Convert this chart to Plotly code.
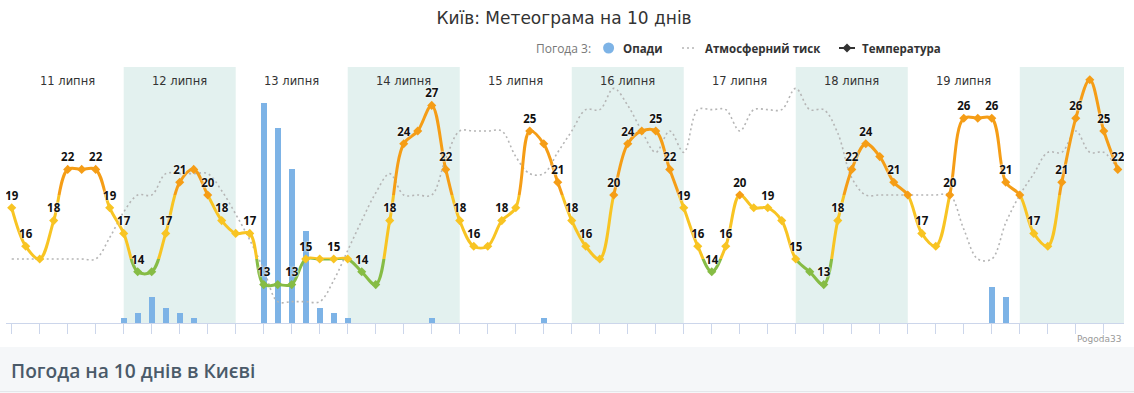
import plotly.graph_objects as go

# ---------------- data ----------------
STEP_H = 3  # hours between forecast points
day_labels = ["11 липня", "12 липня", "13 липня", "14 липня", "15 липня",
              "16 липня", "17 липня", "18 липня", "19 липня", "20 липня"]

temperature = [19, 16, 15, 18, 22, 22, 22, 19,
               17, 14, 14, 17, 21, 22, 20, 18,
               17, 17, 13, 13, 13, 15, 15, 15,
               15, 14, 13, 18, 24, 25, 27, 22,
               18, 16, 16, 18, 19, 25, 24, 21,
               18, 16, 15, 20, 24, 25, 25, 22,
               19, 16, 14, 16, 20, 19, 19, 18,
               15, 14, 13, 18, 22, 24, 23, 21,
               20, 17, 16, 20, 26, 26, 26, 21,
               20, 17, 16, 21, 26, 29, 25, 22]

# 1 = value label shown on the chart, 0 = hidden
temp_label_shown = [1, 1, 0, 1, 1, 0, 1, 1,
                    1, 1, 0, 1, 1, 0, 1, 1,
                    0, 1, 1, 0, 1, 1, 0, 1,
                    0, 1, 0, 1, 1, 0, 1, 1,
                    1, 1, 0, 1, 0, 1, 0, 1,
                    1, 1, 0, 1, 1, 0, 1, 1,
                    1, 1, 1, 1, 1, 0, 1, 0,
                    1, 0, 1, 1, 1, 1, 0, 1,
                    0, 1, 0, 1, 1, 0, 1, 1,
                    0, 1, 0, 1, 1, 0, 1, 1]

pressure = [743, 743, 743, 743, 743, 743, 743, 744,
            745.2, 746, 746, 747, 747, 747, 747, 746.2,
            745.1, 743.9, 742.5, 741, 741, 741, 741, 742,
            743.4, 744.8, 746.1, 747, 746, 746, 746, 747.7,
            749, 749, 749, 749, 747.8, 747, 747, 748,
            749, 750, 750, 751, 750.2, 749, 748, 749,
            748, 750, 750, 750, 749, 750, 750, 750,
            751, 750, 750, 748.9, 746.8, 746, 746, 746,
            746, 746, 746, 746, 744.4, 743, 743, 744.7,
            746, 747, 748, 748, 749, 748, 748, 747.2]

precipitation = [0, 0, 0, 0, 0, 0, 0, 0,
                 0.1, 0.2, 0.5, 0.3, 0.2, 0.1, 0, 0,
                 0, 0, 4.3, 3.8, 3.0, 1.8, 0.3, 0.2,
                 0.1, 0, 0, 0, 0, 0, 0.1, 0,
                 0, 0, 0, 0, 0, 0, 0.1, 0,
                 0, 0, 0, 0, 0, 0, 0, 0,
                 0, 0, 0, 0, 0, 0, 0, 0,
                 0, 0, 0, 0, 0, 0, 0, 0,
                 0, 0, 0, 0, 0, 0, 0.7, 0.5,
                 0, 0, 0, 0, 0, 0, 0, 0]

legend_names = ["Опади", "Атмосферний тиск", "Температура"]

# ---------------- styling ----------------
W, H = 1134, 393
M_L, M_R, M_T, M_B = 6, 10, 67, 70
PLOT_W = W - M_L - M_R
PLOT_H = H - M_T - M_B

T_MIN, T_MAX = 10, 30
P_MIN, P_MAX = 740, 752
R_MAX = 5
X_MIN, X_MAX = -1.22, 238.33

GREEN, YELLOW, ORANGE = "#86bc45", "#f8c423", "#f59d16"
zones = [(T_MIN, 15, GREEN), (15, 20, YELLOW), (20, T_MAX, ORANGE)]
BLUE = "#7db3e6"
BAND = "#e3f1ef"
TXT = "#333333"
PRESS_COL = "#b5b5b5"


def zone_color(v):
    for lo, hi, c in zones:
        if lo <= v < hi:
            return c
    return zones[-1][2]


def py_to_paper(py):
    return (H - M_B - py) / PLOT_H


def px_to_paper(px):
    return (px - M_L) / PLOT_W


x = [STEP_H * i for i in range(len(temperature))]
hours_per_day = 24

fig = go.Figure()

# precipitation bars (main y axis)
fig.add_trace(go.Bar(x=x, y=precipitation, width=1.3, name=legend_names[0],
                     marker=dict(color=BLUE, line=dict(width=0)),
                     showlegend=False, hoverinfo="skip", yaxis="y", xaxis="x"))

# pressure
fig.add_trace(go.Scatter(x=x, y=pressure, mode="lines", name=legend_names[1], yaxis="y2",
                         line=dict(color=PRESS_COL, width=1.6, dash="2px,3px", shape="spline", smoothing=1),
                         hoverinfo="skip", showlegend=False))

# temperature line split into colour zones via clipped sub-axes
zone_axes = ["y3", "y4", "y5"]
for (lo, hi, c), ya in zip(zones, zone_axes):
    fig.add_trace(go.Scatter(x=x, y=temperature, mode="lines", yaxis=ya, showlegend=False,
                             name=legend_names[2],
                             line=dict(color=c, width=3, shape="spline", smoothing=1),
                             hoverinfo="skip"))

# markers
fig.add_trace(go.Scatter(x=x, y=temperature, mode="markers", yaxis="y6", showlegend=False,
                         marker=dict(symbol="diamond", size=7, color=[zone_color(v) for v in temperature],
                                     line=dict(width=0)),
                         hoverinfo="skip"))
# value labels
labels = [str(v) if s else "" for v, s in zip(temperature, temp_label_shown)]
fig.add_trace(go.Scatter(x=x, y=temperature, mode="markers+text", yaxis="y6", showlegend=False,
                         text=labels, textposition="top center",
                         marker=dict(size=7, color="rgba(0,0,0,0)"),
                         textfont=dict(family="Open Sans", size=11.5, color="#111111", weight="bold",
                                       shadow="0px 0px 2px #ffffff, 0px 0px 2px #ffffff"),
                         hoverinfo="skip"))

# day bands and labels
n_days = len(day_labels)
shapes = []
annotations = []
for d in range(n_days):
    if d % 2 == 1:
        shapes.append(dict(type="rect", xref="x", yref="paper", layer="below",
                           x0=d * hours_per_day, x1=(d + 1) * hours_per_day, y0=0, y1=1,
                           fillcolor=BAND, line=dict(width=0)))
for d, lab in enumerate(day_labels[:-1]):
    annotations.append(dict(x=d * hours_per_day + hours_per_day / 2, y=py_to_paper(81),
                            xref="x", yref="paper", text=lab, showarrow=False,
                            font=dict(family="DejaVu Sans", size=11.5, color=TXT),
                            xanchor="center", yanchor="middle"))

# bottom banner
shapes.append(dict(type="rect", xref="paper", yref="paper", layer="below",
                   x0=px_to_paper(0), x1=px_to_paper(W), y0=py_to_paper(H), y1=py_to_paper(347),
                   fillcolor="#f5f7f9", line=dict(width=0)))
shapes.append(dict(type="line", xref="paper", yref="paper", layer="below",
                   x0=px_to_paper(0), x1=px_to_paper(W), y0=py_to_paper(391.5), y1=py_to_paper(391.5),
                   line=dict(color="#e4e7ea", width=1)))
annotations.append(dict(x=px_to_paper(9), y=py_to_paper(370), xref="paper", yref="paper",
                        text="Погода на 10 днів в Києві", showarrow=False, xanchor="left",
                        yanchor="middle",
                        font=dict(family="Open Sans", size=19.2, color="#4a5a69", weight=600)))
# credits
annotations.append(dict(x=1, y=py_to_paper(339), xref="paper", yref="paper", text="Pogoda33",
                        showarrow=False, xanchor="right", yanchor="middle",
                        font=dict(family="DejaVu Sans", size=9, color="#999999")))

# ---- legend (drawn in the header, Highcharts style) ----
LEG_Y = py_to_paper(48)
leg_font = dict(family="Open Sans", size=11.5, color=TXT, weight="bold")
annotations.append(dict(x=px_to_paper(534), y=LEG_Y, xref="paper", yref="paper",
                        text="Погода 3:", showarrow=False, xanchor="left", yanchor="middle",
                        font=dict(family="Open Sans", size=12, color="#777777")))
for name, left_px in zip(legend_names, [621, 703, 860]):
    annotations.append(dict(x=px_to_paper(left_px), y=LEG_Y, xref="paper", yref="paper",
                            text=name, showarrow=False, xanchor="left", yanchor="middle",
                            font=leg_font))
# symbols
r = 5.5
shapes.append(dict(type="circle", xref="paper", yref="paper",
                   x0=px_to_paper(608.6 - r), x1=px_to_paper(608.6 + r),
                   y0=py_to_paper(48 + r), y1=py_to_paper(48 - r),
                   fillcolor=BLUE, line=dict(width=0)))
shapes.append(dict(type="line", xref="paper", yref="paper",
                   x0=px_to_paper(682), x1=px_to_paper(697), y0=LEG_Y, y1=LEG_Y,
                   line=dict(color=PRESS_COL, width=1.6, dash="2px,3px")))
shapes.append(dict(type="line", xref="paper", yref="paper",
                   x0=px_to_paper(839), x1=px_to_paper(855), y0=LEG_Y, y1=LEG_Y,
                   line=dict(color=TXT, width=2)))
cx, d4 = 847, 4.5
shapes.append(dict(type="path", xref="paper", yref="paper",
                   path=(f"M{px_to_paper(cx - d4)},{LEG_Y} L{px_to_paper(cx)},{py_to_paper(48 - d4)} "
                         f"L{px_to_paper(cx + d4)},{LEG_Y} L{px_to_paper(cx)},{py_to_paper(48 + d4)} Z"),
                   fillcolor=TXT, line=dict(width=0)))

layout_axes = {}
layout_axes["yaxis"] = dict(domain=[0, 1], range=[0, R_MAX], visible=False, fixedrange=True)
layout_axes["yaxis2"] = dict(overlaying="y", range=[P_MIN, P_MAX], visible=False)
for (lo, hi, c), ya in zip(zones, zone_axes):
    key = "yaxis" + ya[1:]
    layout_axes[key] = dict(domain=[(lo - T_MIN) / (T_MAX - T_MIN), (hi - T_MIN) / (T_MAX - T_MIN)],
                            range=[lo, hi], visible=False, anchor="x")
layout_axes["yaxis6"] = dict(domain=[0, 1], range=[T_MIN, T_MAX], visible=False, anchor="x")

fig.update_layout(
    width=W, height=H,
    margin=dict(l=M_L, r=M_R, t=M_T, b=M_B),
    paper_bgcolor="white", plot_bgcolor="rgba(0,0,0,0)",
    title=dict(text="Київ: Метеограма на 10 днів", x=564 / W, xref="container", xanchor="center",
               y=1 - 18 / H, yref="container", yanchor="middle",
               font=dict(family="DejaVu Sans", size=17, color=TXT)),
    xaxis=dict(range=[X_MIN, X_MAX], showgrid=False, zeroline=False, showticklabels=False,
               ticks="outside", tick0=0, dtick=6, ticklen=10, tickcolor="#ccd6eb", tickwidth=1,
               showline=True, linecolor="#ccd6eb", linewidth=1, anchor="y", fixedrange=True),
    shapes=shapes, annotations=annotations,
    bargap=0, showlegend=False, hovermode=False,
    **layout_axes,
)

fig.write_html("out.html", config={"displayModeBar": False, "staticPlot": True},
               post_script="document.body.style.margin='0px';")
